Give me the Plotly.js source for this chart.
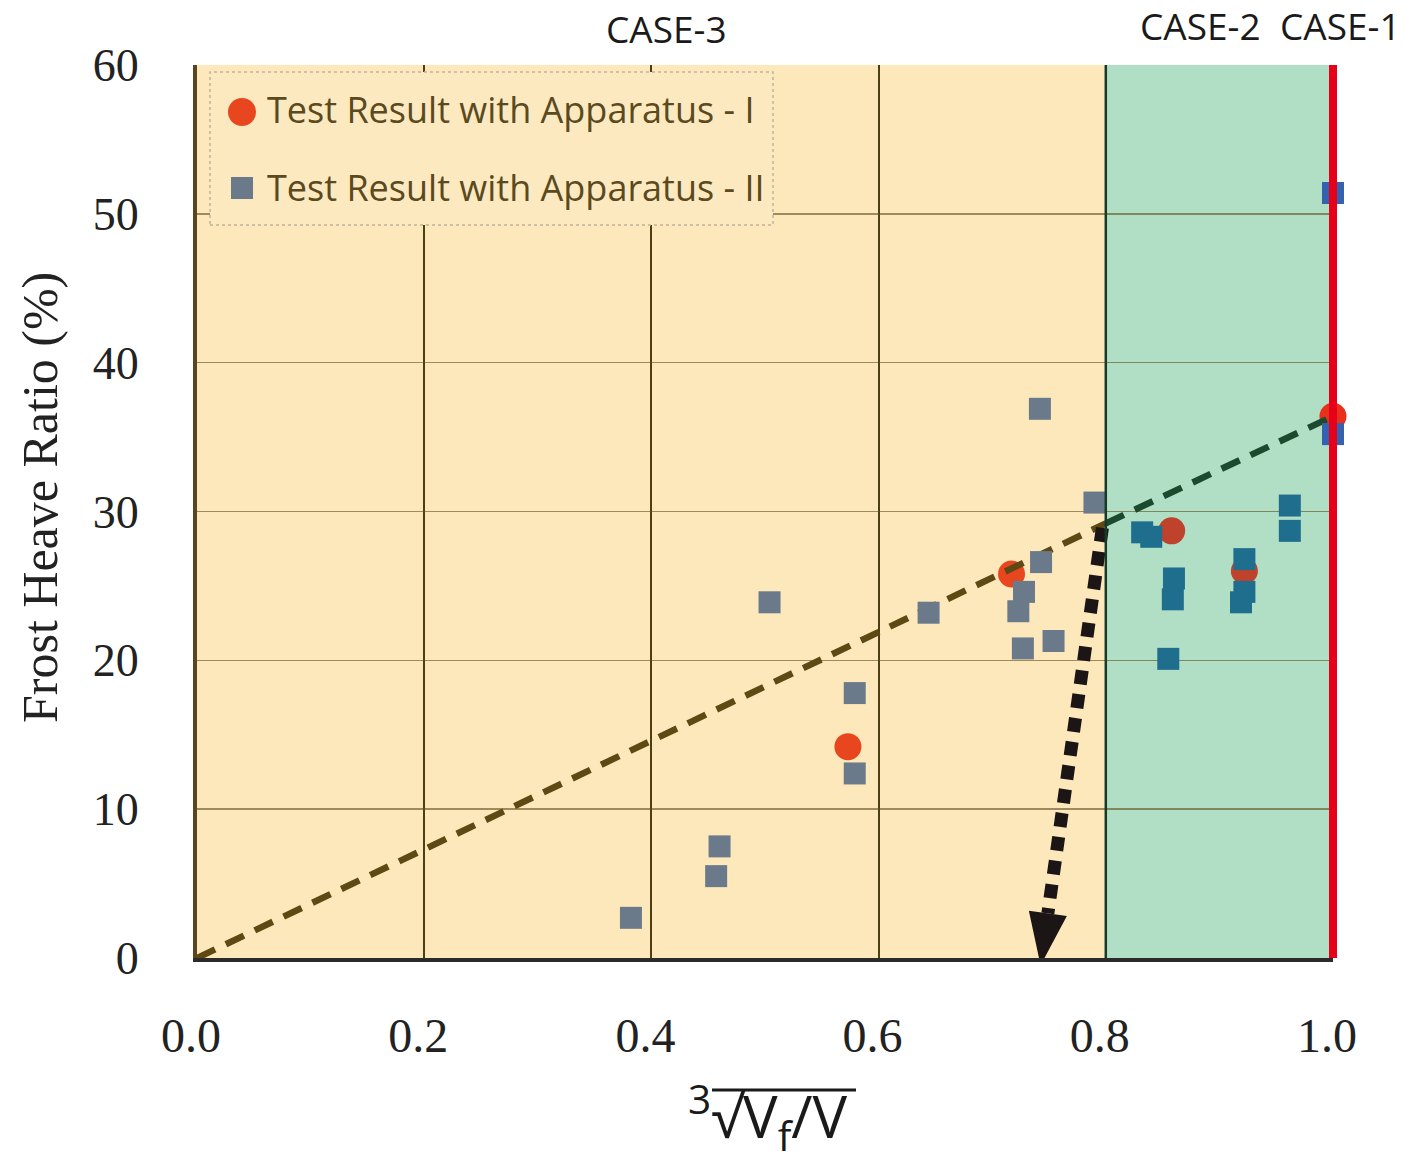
<!DOCTYPE html>
<html><head><meta charset="utf-8">
<script src="https://cdn.plot.ly/plotly-3.0.1.min.js"></script>
<style>html,body{margin:0;padding:0;background:#fff}#chart{width:1403px;height:1163px}</style>
</head><body><div id="chart"></div>
<script>
// ---- data ----
const app1X = [0.573, 0.717, 0.858, 0.922, 1.0];
const app1Y = [14.2, 25.8, 28.7, 26.0, 36.4];
const app2X = [0.382, 0.457, 0.460, 0.504, 0.579, 0.579, 0.644, 0.723, 0.727, 0.728, 0.742, 0.743, 0.754, 0.790,
               0.832, 0.840, 0.855, 0.859, 0.860, 0.919, 0.922, 0.922, 0.962, 0.962, 1.0, 1.0];
const app2Y = [2.7, 5.5, 7.5, 23.9, 12.4, 17.8, 23.2, 23.3, 20.8, 24.6, 36.9, 26.6, 21.3, 30.6,
               28.6, 28.3, 20.1, 24.1, 25.5, 23.9, 24.6, 26.8, 28.7, 30.4, 35.2, 51.4];
const trendX = [0, 0.8, 1.0];
const trendY = [0, 29.2, 36.4];
const arrowX = [0.797, 0.749];
const arrowY = [28.9, 3.0];
const caseBounds = [0.8, 1.0];
const caseLabels = ['CASE-3', 'CASE-2', 'CASE-1'];
const seriesNames = ['Test Result with Apparatus - I', 'Test Result with Apparatus - II'];
const xTicks = [0, 0.2, 0.4, 0.6, 0.8, 1.0];
const xTickText = ['0.0', '0.2', '0.4', '0.6', '0.8', '1.0'];
const yTicks = [0, 10, 20, 30, 40, 50, 60];
const yTickText = ['0', '10', '20', '30', '40', '50', '60'];

// ---- helpers for pixel -> paper conversion of decorations ----
const L = 197, T = 65, PW = 1136, PH = 893;
const px = v => (v - L) / PW;
const py = v => (T + PH - v) / PH;

const sqColor = x => x >= 0.999 ? '#3461b0' : (x > caseBounds[0] ? '#1f6e8e' : '#6b7a8b');
const ciColor = x => x >= 0.999 ? '#e8301c' : (x > caseBounds[0] ? '#bf432c' : '#e8461f');

const traces = [
  {x: app1X, y: app1Y, type: 'scatter', mode: 'markers', name: seriesNames[0], cliponaxis: false,
   marker: {symbol: 'circle', size: 27, color: app1X.map(ciColor), line: {width: 0}}},
  {x: trendX.slice(0, 2), y: trendY.slice(0, 2), type: 'scatter', mode: 'lines', cliponaxis: false,
   line: {color: '#5e4915', width: 6.5, dash: '20px,12px'}, hoverinfo: 'skip'},
  {x: trendX.slice(1, 3), y: trendY.slice(1, 3), type: 'scatter', mode: 'lines', cliponaxis: false,
   line: {color: '#1b4a2f', width: 6.5, dash: '20px,12px'}, hoverinfo: 'skip'},
  {x: app2X, y: app2Y, type: 'scatter', mode: 'markers', name: seriesNames[1], cliponaxis: false,
   marker: {symbol: 'square', size: 22, color: app2X.map(sqColor), line: {width: 0}}},
  {x: arrowX, y: arrowY, type: 'scatter', mode: 'lines', cliponaxis: false,
   line: {color: '#1b1515', width: 13, dash: '14px,10px'}, hoverinfo: 'skip'}
];

const layout = {
  width: 1403, height: 1163,
  margin: {l: 197, r: 70, t: 65, b: 205},
  paper_bgcolor: '#ffffff', plot_bgcolor: '#ffffff',
  showlegend: false,
  xaxis: {range: [0, 1], tickvals: xTicks, ticktext: xTickText, showgrid: true, gridcolor: '#4e3e14', gridwidth: 2,
          showline: true, linecolor: '#2b2b2b', linewidth: 4, zeroline: false, ticks: '', ticklabelstandoff: 32,
          ticklabelshift: -6, tickfont: {family: 'Liberation Serif', size: 48, color: '#222'}},
  yaxis: {range: [0, 60], tickvals: yTicks, ticktext: yTickText, showgrid: true, gridcolor: 'rgba(95,75,25,0.6)', gridwidth: 1.5,
          showline: true, linecolor: '#5a4520', linewidth: 4, zeroline: false, ticks: '', ticklabelstandoff: 45,
          tickfont: {family: 'Liberation Serif', size: 46, color: '#222'}},
  shapes: [
    {type: 'rect', xref: 'x', yref: 'y', x0: 0, x1: caseBounds[0], y0: 0, y1: 60, fillcolor: '#fde8bc', line: {width: 0}, layer: 'below'},
    {type: 'rect', xref: 'x', yref: 'y', x0: caseBounds[0], x1: caseBounds[1], y0: 0, y1: 60, fillcolor: '#b1dfc6', line: {width: 0}, layer: 'below'},
    {type: 'line', xref: 'x', yref: 'paper', x0: caseBounds[0], x1: caseBounds[0], y0: 0, y1: 1, line: {color: '#163b28', width: 2.5}, layer: 'above'},
    {type: 'line', xref: 'paper', yref: 'paper', x0: 1, x1: 1, y0: 0, y1: 1, line: {color: '#e6001a', width: 8}, layer: 'above'},
    // arrow head at the end of the dotted arrow (pixel-sized path anchored at the line end)
    {type: 'path', xref: 'x', yref: 'y', xsizemode: 'pixel', ysizemode: 'pixel', xanchor: arrowX[1], yanchor: arrowY[1],
     path: 'M19,-2.7 L-19,2.7 L-7.3,-52 Z', fillcolor: '#1b1515', line: {width: 0}, layer: 'above'},
    // legend box
    {type: 'rect', xref: 'paper', yref: 'paper', x0: px(210), x1: px(773), y0: py(225), y1: py(72),
     fillcolor: '#fde9c0', line: {color: '#bdb39c', width: 1.5, dash: 'dot'}, layer: 'above'},
    {type: 'circle', xref: 'paper', yref: 'paper', xsizemode: 'pixel', ysizemode: 'pixel', xanchor: px(242), yanchor: py(112),
     x0: -14, x1: 14, y0: -14, y1: 14, fillcolor: '#e8461f', line: {width: 0}, layer: 'above'},
    {type: 'rect', xref: 'paper', yref: 'paper', xsizemode: 'pixel', ysizemode: 'pixel', xanchor: px(242), yanchor: py(188),
     x0: -11, x1: 11, y0: -11, y1: 11, fillcolor: '#6b7a8b', line: {width: 0}, layer: 'above'},
    // vinculum of the cube root in the x title
    {type: 'line', xref: 'paper', yref: 'paper', x0: px(712), x1: px(856), y0: py(1090), y1: py(1090), line: {color: '#1a1a1a', width: 3}}
  ],
  annotations: [
    {text: caseLabels[0], xref: 'paper', yref: 'paper', x: px(666), y: py(28), showarrow: false, xanchor: 'center', yanchor: 'middle',
     font: {family: 'Open Sans', size: 37, color: '#1a1a1a'}},
    {text: caseLabels[1], xref: 'paper', yref: 'paper', x: px(1200), y: py(25), showarrow: false, xanchor: 'center', yanchor: 'middle',
     font: {family: 'Open Sans', size: 37, color: '#1a1a1a'}},
    {text: caseLabels[2], xref: 'paper', yref: 'paper', x: px(1340), y: py(25), showarrow: false, xanchor: 'center', yanchor: 'middle',
     font: {family: 'Open Sans', size: 37, color: '#1a1a1a'}},
    {text: seriesNames[0], xref: 'paper', yref: 'paper', x: px(265), y: py(110), showarrow: false, xanchor: 'left', yanchor: 'middle',
     font: {family: 'Open Sans', size: 36, color: '#5a4a1e'}},
    {text: seriesNames[1], xref: 'paper', yref: 'paper', x: px(265), y: py(188), showarrow: false, xanchor: 'left', yanchor: 'middle',
     font: {family: 'Open Sans', size: 36, color: '#5a4a1e'}},
    {text: 'Frost Heave Ratio (%)', xref: 'paper', yref: 'paper', x: px(40), y: py(498), showarrow: false, textangle: -90,
     xanchor: 'center', yanchor: 'middle', font: {family: 'Liberation Serif', size: 50, color: '#222'}},
    {text: '<sup>3</sup>√V<sub>f</sub>/V', xref: 'paper', yref: 'paper', x: px(768), y: py(1117), showarrow: false,
     xanchor: 'center', yanchor: 'middle', font: {family: 'Open Sans', size: 58, color: '#1a1a1a'}}
  ]
};

Plotly.newPlot('chart', traces, layout, {displayModeBar: false, staticPlot: true});
</script>
</body></html>
